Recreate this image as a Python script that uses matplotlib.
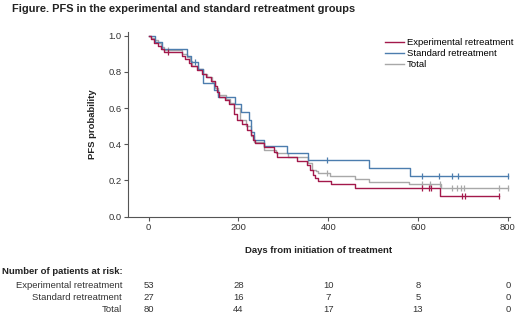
import matplotlib
matplotlib.use("Agg")
import matplotlib.pyplot as plt
import matplotlib.transforms as mtransforms

plt.rcParams['font.family'] = ['Liberation Sans', 'DejaVu Sans']

# ---- data ----
exp_t = [0, 5, 12, 20, 27, 35, 75, 82, 90, 95, 108, 118, 128, 140, 147, 152, 157, 170, 180,
         190, 197, 208, 219, 227, 232, 236, 256, 280, 285, 330, 352, 360, 366, 371, 378, 406, 460, 650, 781]
exp_s = [1.0, 0.98, 0.96, 0.945, 0.925, 0.91, 0.89, 0.87, 0.85, 0.83, 0.81, 0.79, 0.77, 0.75, 0.72,
         0.69, 0.66, 0.645, 0.625, 0.57, 0.535, 0.51, 0.48, 0.45, 0.425, 0.405, 0.385, 0.36, 0.33,
         0.31, 0.285, 0.258, 0.23, 0.212, 0.199, 0.178, 0.156, 0.116, 0.116]
exp_cens_t = [42, 608, 625, 628, 697, 704, 781]
exp_cens_s = [0.91, 0.156, 0.156, 0.156, 0.116, 0.116, 0.116]

std_t = [0, 15, 30, 85, 95, 110, 120, 146, 155, 192, 205, 223, 228, 234, 256, 309, 354, 491, 583, 800]
std_s = [1.0, 0.963, 0.926, 0.89, 0.855, 0.815, 0.74, 0.70, 0.66, 0.625, 0.58, 0.535, 0.47, 0.425,
         0.39, 0.354, 0.313, 0.267, 0.224, 0.224]
std_cens_t = [103, 397, 610, 646, 675, 690, 800]
std_cens_s = [0.855, 0.313, 0.224, 0.224, 0.224, 0.224, 0.224]

tot_t = [0, 5, 12, 20, 27, 35, 75, 85, 92, 97, 110, 120, 130, 142, 148, 155, 172, 182, 190, 203,
         217, 228, 234, 256, 283, 310, 354, 364, 372, 378, 404, 460, 491, 581, 651, 800]
tot_s = [1.0, 0.9875, 0.975, 0.96, 0.94, 0.92, 0.90, 0.88, 0.86, 0.835, 0.815, 0.79, 0.77, 0.745,
         0.71, 0.67, 0.65, 0.63, 0.60, 0.535, 0.50, 0.445, 0.415, 0.37, 0.35, 0.33, 0.295, 0.26,
         0.25, 0.243, 0.226, 0.206, 0.193, 0.18, 0.156, 0.156]
tot_cens_t = [42, 397, 608, 626, 648, 675, 688, 696, 703, 781, 800]
tot_cens_s = [0.92, 0.243, 0.18, 0.18, 0.18, 0.156, 0.156, 0.156, 0.156, 0.156, 0.156]

risk_times = [0, 200, 400, 600, 800]
risk_labels = ["Experimental retreatment", "Standard retreatment", "Total"]
risk_exp = [53, 28, 10, 8, 0]
risk_std = [27, 16, 7, 5, 0]
risk_tot = [80, 44, 17, 13, 0]

x_ticks = [0, 200, 400, 600, 800]
y_ticks = [0.0, 0.2, 0.4, 0.6, 0.8, 1.0]

c_exp = "#A3194B"
c_std = "#4C7DAE"
c_tot = "#A8A8A8"
tick_col = "#333333"
fs = 6.8

fig = plt.figure(figsize=(5.2, 3.13), dpi=100)
ax = fig.add_axes([128 / 520, (313 - 216.7) / 313, (510 - 128) / 520, (216.7 - 31.7) / 313])

lw = 1.0
ax.step(tot_t, tot_s, where='post', color=c_tot, lw=lw, label="Total", zorder=2)
ax.step(std_t, std_s, where='post', color=c_std, lw=lw, label="Standard retreatment", zorder=3)
ax.step(exp_t, exp_s, where='post', color=c_exp, lw=lw, label="Experimental retreatment", zorder=4)
ax.plot(tot_cens_t, tot_cens_s, ls='none', marker='|', ms=5, mew=0.9, color=c_tot, zorder=2)
ax.plot(std_cens_t, std_cens_s, ls='none', marker='|', ms=5, mew=0.9, color=c_std, zorder=3)
ax.plot(exp_cens_t, exp_cens_s, ls='none', marker='|', ms=5, mew=0.9, color=c_exp, zorder=4)

ax.set_xlim(-46, 805)
ax.set_ylim(0, 1.022)
ax.set_xticks(x_ticks)
ax.set_yticks(y_ticks)
ax.set_yticklabels([f"{v:.1f}" for v in y_ticks])
for s in ['top', 'right']:
    ax.spines[s].set_visible(False)
for s in ['left', 'bottom']:
    ax.spines[s].set_color("#555555")
    ax.spines[s].set_linewidth(0.8)
ax.tick_params(axis='both', direction='out', length=3, width=0.8, color="#555555",
               labelsize=fs, labelcolor=tick_col, pad=1.5)

ax.set_ylabel("PFS probability", fontsize=fs, fontweight='bold', color="#222222", labelpad=8)
ax.set_xlabel("Days from initiation of treatment", fontsize=fs, fontweight='bold',
              color="#222222", labelpad=10)

handles, labels = ax.get_legend_handles_labels()
order = [2, 1, 0]
ax.legend([handles[i] for i in order], [labels[i] for i in order], loc='upper right',
          bbox_to_anchor=(1.026, 1.0), frameon=False, fontsize=fs, handlelength=2.0,
          handletextpad=0.3, labelspacing=0.2, borderaxespad=0.3)

fig.text(12 / 520, 1 - 9 / 313, "Figure. PFS in the experimental and standard retreatment groups",
         fontsize=7.9, fontweight='bold', color="#222222", va='center', ha='left')

trans = mtransforms.blended_transform_factory(ax.transData, fig.transFigure)
fig.text(2 / 520, 1 - 271 / 313, "Number of patients at risk:", fontsize=fs,
         fontweight='bold', color="#222222", va='center', ha='left')
rows = [risk_exp, risk_std, risk_tot]
row_y = [285, 297, 309]
for lab, vals, yy in zip(risk_labels, rows, row_y):
    fig.text(122 / 520, 1 - yy / 313, lab, fontsize=fs, color=tick_col, va='center', ha='right')
    for t, v in zip(risk_times, vals):
        ax.text(t, 1 - yy / 313, str(v), transform=trans, fontsize=fs, color=tick_col,
                va='center', ha='center')

fig.savefig("out.png", dpi=100)
